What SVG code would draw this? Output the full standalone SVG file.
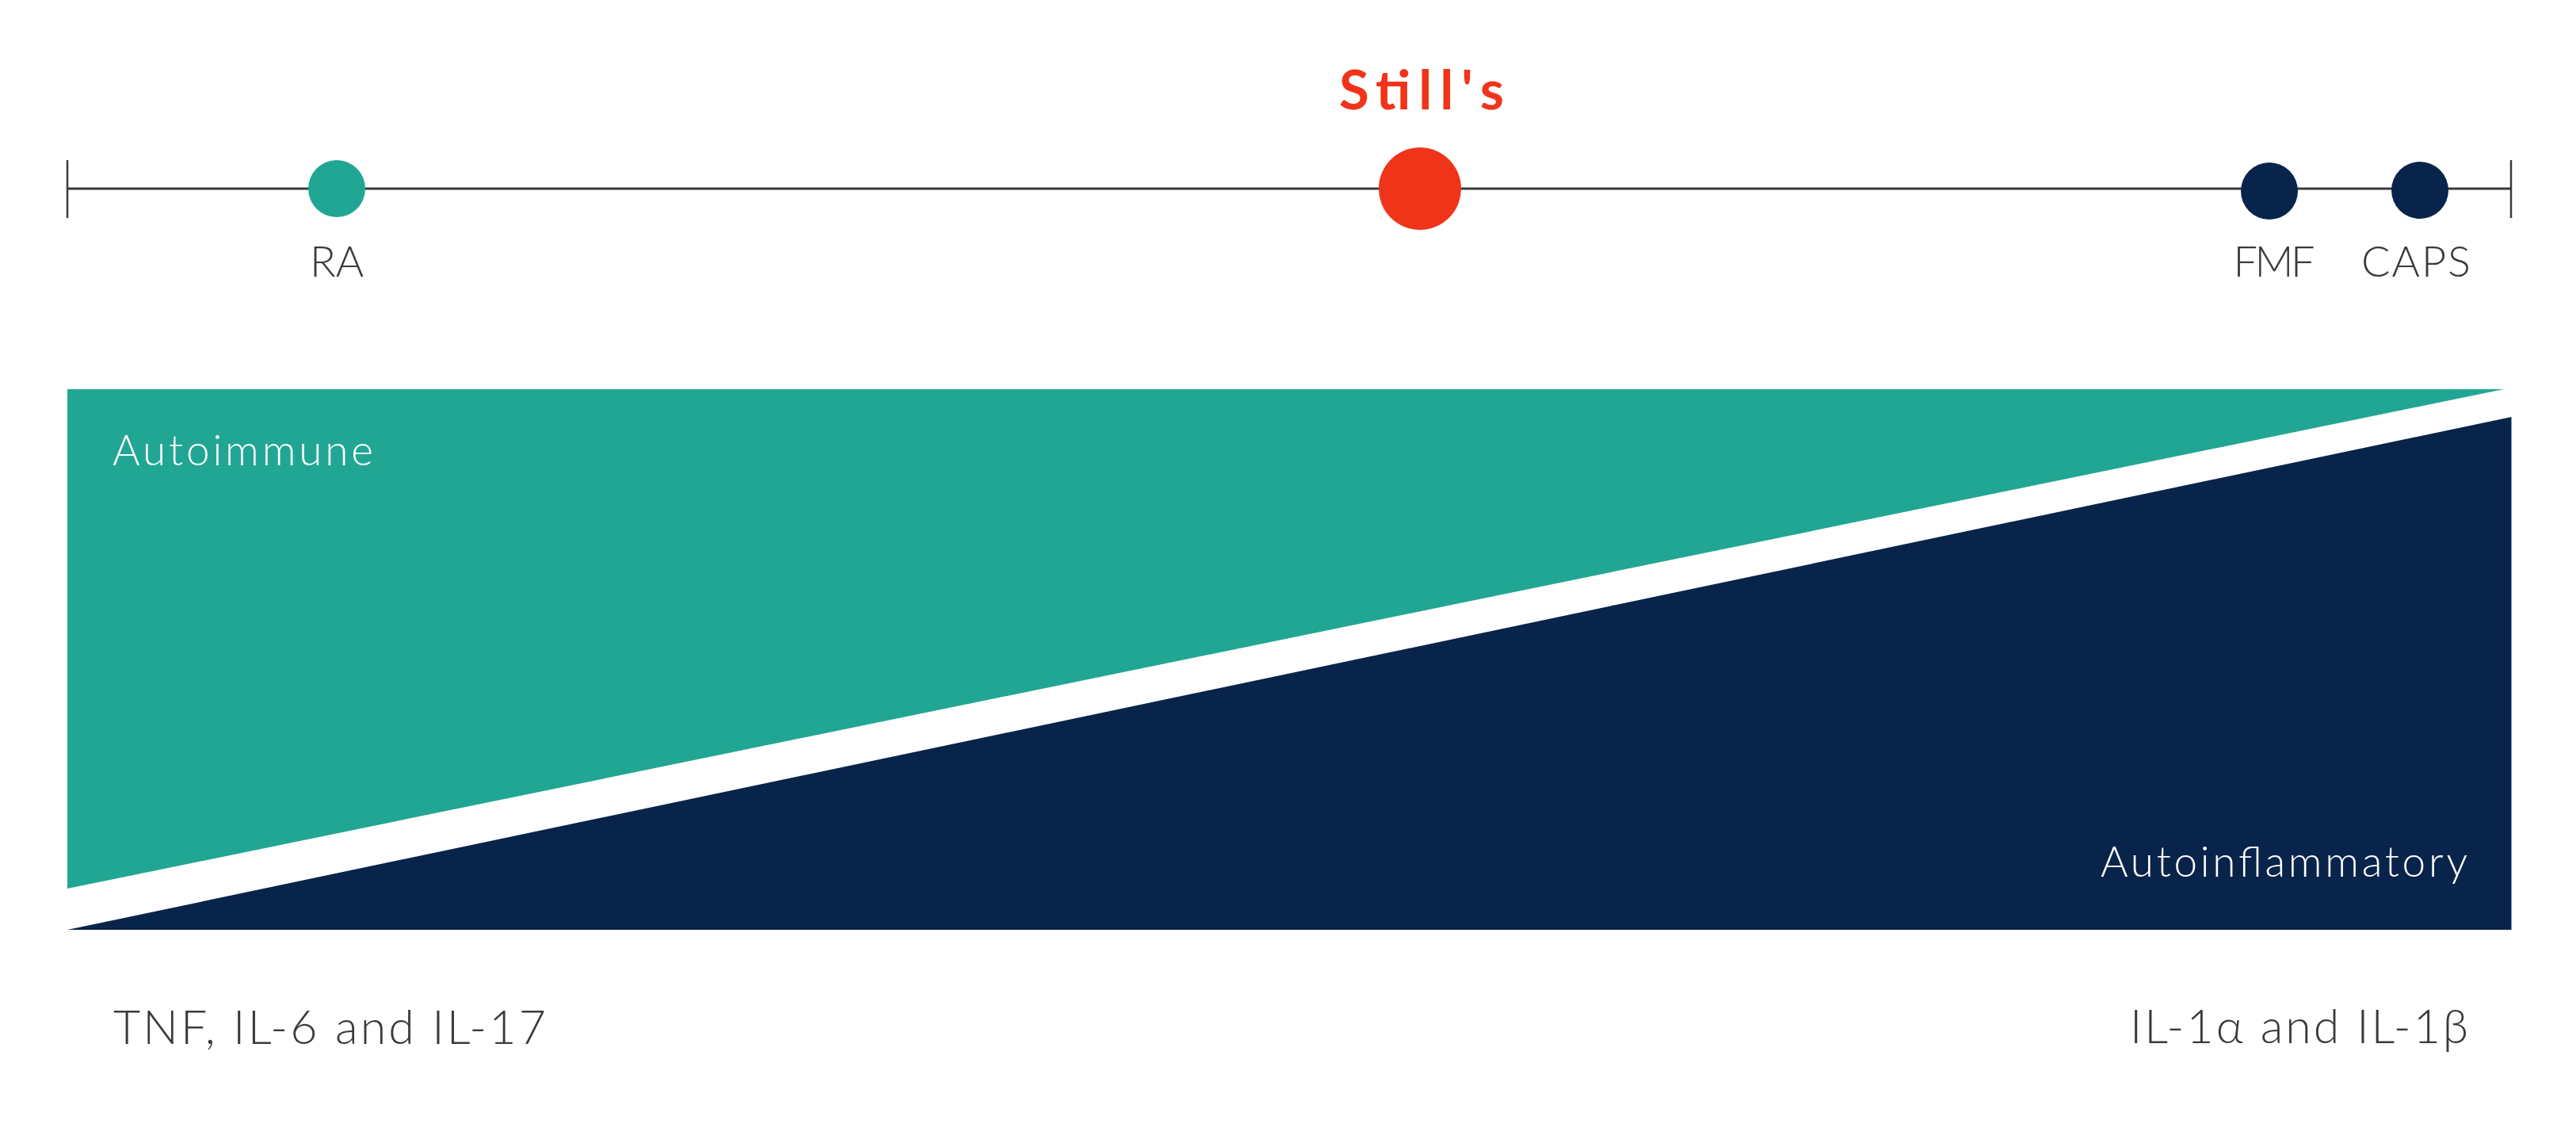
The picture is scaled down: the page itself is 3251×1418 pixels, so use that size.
<svg xmlns="http://www.w3.org/2000/svg" width="3251" height="1418" viewBox="0 0 3251 1418">
  <style>
    .lbl { font-family: Lato, "Liberation Sans", sans-serif; font-weight: 300; fill: #3a3a3a; }
    .wlbl { font-family: Lato, "Liberation Sans", sans-serif; font-weight: 300; fill: #ffffff; }
    .axis { stroke: #3a3a3a; fill: none; }
    .teal { fill: #22a694; }
    .navy { fill: #08244a; }
  </style>
  <rect x="0" y="0" width="3251" height="1418" fill="#ffffff"/>
  <g id="connectors">
    <line class="axis" x1="85" y1="238" x2="3169" y2="238" stroke-width="3"/>
    <line class="axis" x1="85" y1="202" x2="85" y2="275" stroke-width="2.5"/>
    <line class="axis" x1="3169" y1="202" x2="3169" y2="275" stroke-width="2.5"/>
  </g>
  <g id="node-ra">
    <circle class="teal" cx="425" cy="238" r="36"/>
    <text class="lbl" x="425" y="349" font-size="54" text-anchor="middle">RA</text>
  </g>
  <g id="node-stills">
    <circle cx="1792" cy="238" r="52" fill="#f0341a"/>
    <text x="1794" y="138" font-size="69" font-weight="700" text-anchor="middle" textLength="208" font-family="Lato, 'Liberation Sans', sans-serif" fill="#f0341a">Still's</text>
  </g>
  <g id="node-fmf">
    <circle class="navy" cx="2864" cy="241" r="36"/>
    <text class="lbl" x="2870" y="349" font-size="54" text-anchor="middle" textLength="103">FMF</text>
  </g>
  <g id="node-caps">
    <circle class="navy" cx="3054" cy="240" r="36"/>
    <text class="lbl" x="3049" y="349" font-size="54" text-anchor="middle" textLength="138">CAPS</text>
  </g>
  <g id="autoimmune">
    <polygon class="teal" points="85,491 3160,491 85,1121"/>
    <text class="wlbl" x="142" y="587" font-size="53" textLength="329">Autoimmune</text>
  </g>
  <g id="autoinflammatory">
    <polygon class="navy" points="3169.5,526 3169.5,1173 85,1173"/>
    <text class="wlbl" x="3114" y="1106" font-size="53" text-anchor="end" textLength="463">Autoinflammatory</text>
  </g>
  <g id="cytokines-left">
    <text class="lbl" x="143" y="1317" font-size="59" textLength="546">TNF, IL-6 and IL-17</text>
  </g>
  <g id="cytokines-right">
    <text class="lbl" x="3115" y="1316" font-size="59" text-anchor="end" textLength="427">IL-1α and IL-1β</text>
  </g>
</svg>
